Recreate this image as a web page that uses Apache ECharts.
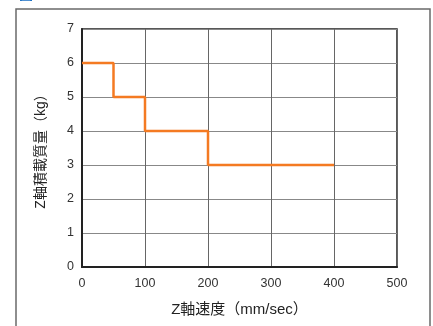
<!DOCTYPE html>
<html><head><meta charset="utf-8">
<script src="https://cdn.jsdelivr.net/npm/echarts@6/dist/echarts.min.js"></script>
<style>html,body{margin:0;padding:0;background:#fff}#c{width:433px;height:326px}</style>
</head><body><div id="c"></div>
<script>
const speeds = [0, 50, 50, 100, 100, 200, 200, 400];
const payloads = [6, 6, 5, 5, 4, 4, 3, 3];
const xTicks = [0, 100, 200, 300, 400, 500];
const yTicks = [0, 1, 2, 3, 4, 5, 6, 7];
const xName = 'Z軸速度（mm/sec）';
const yName = 'Z軸積載質量（kg）';
const font = '"Liberation Sans", "Noto Sans CJK JP", sans-serif';

const chart = echarts.init(document.getElementById('c'), null, {renderer: 'canvas'});
chart.setOption({
  animation: false,
  graphic: [
    {type: 'rect', shape: {x: 16, y: 9, width: 414, height: 330}, style: {fill: 'none', stroke: '#6a6a6a', lineWidth: 1.5}, z: 0},
    {type: 'text', left: 19, top: -13, style: {text: '図', fill: '#1a6fc4', font: 'bold 14px "Noto Sans CJK JP"'}}
  ],
  grid: {left: 82, top: 29, right: 36, bottom: 59, show: true, borderColor: '#222', borderWidth: 1.5},
  xAxis: {
    type: 'value', min: xTicks[0], max: xTicks[xTicks.length - 1], interval: 100,
    name: xName, nameLocation: 'middle', nameGap: 35,
    nameTextStyle: {fontSize: 15, color: '#222', fontFamily: font},
    axisLine: {show: true, lineStyle: {color: '#222', width: 2}},
    axisTick: {show: false},
    axisLabel: {fontSize: 12.5, color: '#333', fontFamily: font, margin: 10},
    splitLine: {show: true, lineStyle: {color: '#666', width: 1}}
  },
  yAxis: {
    type: 'value', min: yTicks[0], max: yTicks[yTicks.length - 1], interval: 1,
    name: yName, nameLocation: 'middle', nameGap: 34,
    nameTextStyle: {fontSize: 14, color: '#222', fontFamily: font},
    axisLine: {show: true, lineStyle: {color: '#222', width: 2}},
    axisTick: {show: false},
    axisLabel: {fontSize: 12.5, color: '#333', fontFamily: font, margin: 8},
    splitLine: {show: true, lineStyle: {color: '#888', width: 1}}
  },
  series: [{
    type: 'line',
    data: speeds.map((s, i) => [s, payloads[i]]),
    showSymbol: false,
    lineStyle: {color: '#f47a22', width: 2.5},
    z: 5
  }]
});
</script></body></html>
